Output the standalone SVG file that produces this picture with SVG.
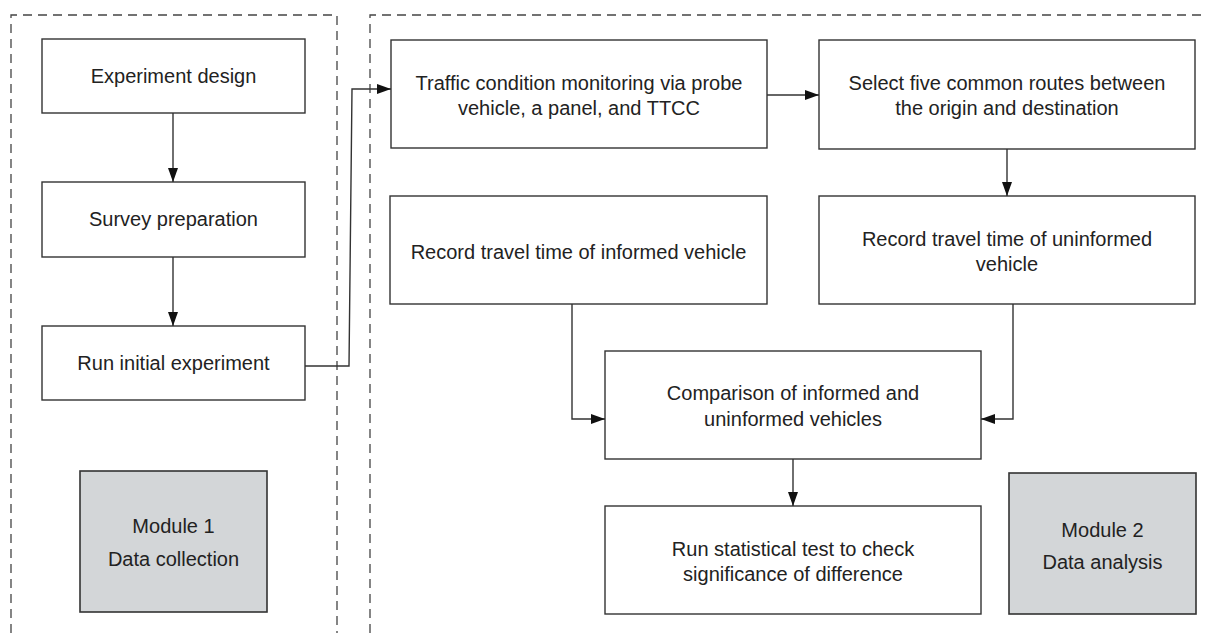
<svg xmlns="http://www.w3.org/2000/svg" width="1210" height="633" viewBox="0 0 1210 633">
<style>
.frame{fill:none;stroke:#444;stroke-width:1.3;stroke-dasharray:9 6}
.box rect{fill:#fff;stroke:#333;stroke-width:1.4}
.mod rect{fill:#d3d6d8;stroke:#333;stroke-width:1.6}
text{font-family:"Liberation Sans",Arial,sans-serif;font-size:20px;fill:#222;text-anchor:middle}
.conn path{fill:none;stroke:#333;stroke-width:1.4}
</style>
<defs>
<marker id="arr" viewBox="0 0 14 10" refX="14" refY="5" markerWidth="14" markerHeight="10" markerUnits="userSpaceOnUse" orient="auto">
<path d="M0,0 L14,5 L0,10 Z" fill="#111"/>
</marker>
</defs>
<rect width="1210" height="633" fill="#fff"/>
<g id="frames">
<path class="frame" d="M11,633 V15 H337 V633"/>
<path class="frame" d="M370,633 V15 H1202"/>
</g>
<g id="n1" class="box"><rect x="42" y="39" width="263" height="74"/><text x="173.5" y="83">Experiment design</text></g>
<g id="n2" class="box"><rect x="42" y="182" width="263" height="75"/><text x="173.5" y="226">Survey preparation</text></g>
<g id="n3" class="box"><rect x="42" y="326" width="263" height="74"/><text x="173.5" y="370">Run initial experiment</text></g>
<g id="m1" class="mod"><rect x="80" y="471" width="187" height="141"/><text x="173.5" y="533">Module 1</text><text x="173.5" y="566">Data collection</text></g>
<g id="n4" class="box"><rect x="391" y="40" width="376" height="108"/><text x="579" y="90">Traffic condition monitoring via probe</text><text x="579" y="115">vehicle, a panel, and TTCC</text></g>
<g id="n5" class="box"><rect x="819" y="40" width="376" height="109"/><text x="1007" y="90">Select five common routes between</text><text x="1007" y="115">the origin and destination</text></g>
<g id="n6" class="box"><rect x="390" y="196" width="377" height="108"/><text x="578.5" y="259">Record travel time of informed vehicle</text></g>
<g id="n7" class="box"><rect x="819" y="196" width="376" height="108"/><text x="1007" y="246">Record travel time of uninformed</text><text x="1007" y="271">vehicle</text></g>
<g id="n8" class="box"><rect x="605" y="351" width="376" height="108"/><text x="793" y="400">Comparison of informed and</text><text x="793" y="426">uninformed vehicles</text></g>
<g id="n9" class="box"><rect x="605" y="506" width="376" height="108"/><text x="793" y="556">Run statistical test to check</text><text x="793" y="581">significance of difference</text></g>
<g id="m2" class="mod"><rect x="1009" y="473" width="187" height="141"/><text x="1102.5" y="537">Module 2</text><text x="1102.5" y="569">Data analysis</text></g>
<g id="connectors" class="conn">
<path d="M173,113 V182" marker-end="url(#arr)"/>
<path d="M173,257 V326" marker-end="url(#arr)"/>
<path d="M305,366 H349 L352,89 H391" marker-end="url(#arr)"/>
<path d="M767,95 H819" marker-end="url(#arr)"/>
<path d="M1007,149 V196" marker-end="url(#arr)"/>
<path d="M572,304 V419 H605" marker-end="url(#arr)"/>
<path d="M1013,304 V419 H981" marker-end="url(#arr)"/>
<path d="M793,459 V506" marker-end="url(#arr)"/>
</g>
</svg>
